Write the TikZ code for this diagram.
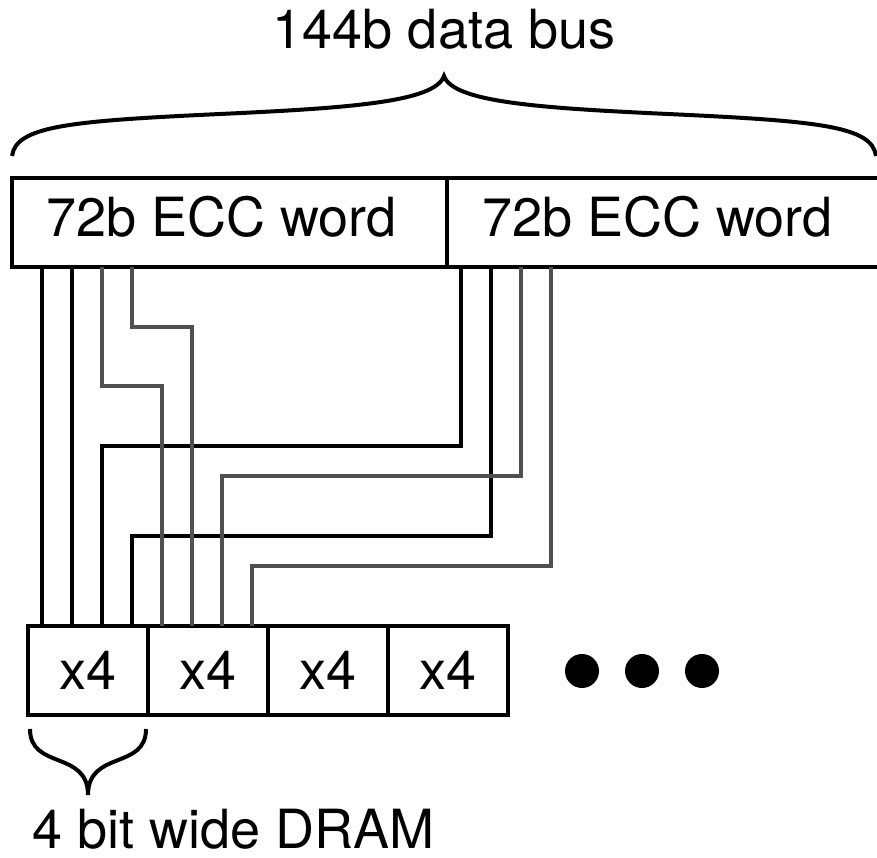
\documentclass[tikz,border=0pt]{standalone}
\usepackage{fontspec}
\setmainfont{TeX Gyre Heros}
\usetikzlibrary{calc}
\definecolor{wiregray}{HTML}{505050}
\begin{document}
\begin{tikzpicture}[x=1pt,y=-1pt,
  txt/.style={font=\fontsize{54}{60}\selectfont, inner sep=0pt, outer sep=0pt},
  box/.style={draw, line width=4pt, rectangle, inner sep=0pt, outer sep=0pt},
  wordbox/.style={box, minimum height=89pt},
  wordlabel/.style={txt, anchor=west, text height=38pt, text depth=9pt},
  chip/.style={box, txt, minimum width=120pt, minimum height=89pt},
  busline/.style={line width=4pt, black},
  grayline/.style={line width=4pt, wiregray},
  bracestyle/.style={line width=4pt},
  dot/.style={circle, fill=black, inner sep=0pt, minimum size=34pt}]
\useasboundingbox (0,0) rectangle (877,858);
\clip (0,0) rectangle (877,858);

% bus title and brace
\node[txt, anchor=base] (title) at (444,49) {144b data bus};
\draw[bracestyle] (12,156) .. controls (16,126) and (70,121) .. (220,114)
  .. controls (350,108) and (435,102) .. (444,76)
  .. controls (453,102) and (538,108) .. (668,114)
  .. controls (818,121) and (872,126) .. (876,156);

% the two ECC words
\node[wordbox, minimum width=435pt, anchor=north west] (w1) at (12,178) {};
\node[wordbox, minimum width=460pt, anchor=north west] (w2) at (w1.north east) {};
\node[wordlabel] (t1) at ($(w1.west)+(34,0)$) {72b ECC word};
\node[wordlabel] (t2) at ($(w2.west)+(35,0)$) {72b ECC word};

% DRAM chips
\node[chip, anchor=north west] (d1) at (28,626) {x4};
\node[chip, anchor=north west] (d2) at (d1.north east) {x4};
\node[chip, anchor=north west] (d3) at (d2.north east) {x4};
\node[chip, anchor=north west] (d4) at (d3.north east) {x4};
\node[dot] (e1) at (582,671) {};
\node[dot] (e2) at (642,671) {};
\node[dot] (e3) at (702,671) {};

% black wires
\draw[busline] ($(w1.south west)+(30,0)$) -- ($(d1.north west)+(14,0)$);
\draw[busline] ($(w1.south west)+(60,0)$) -- ($(d1.north west)+(44,0)$);
\draw[busline] ($(w2.south west)+(14,0)$) -- ++(0,179) -| ($(d1.north west)+(74,0)$);
\draw[busline] ($(w2.south west)+(44,0)$) -- ++(0,269) -| ($(d1.north west)+(104,0)$);

% gray wires
\draw[grayline] ($(w1.south west)+(90,0)$) -- ++(0,119) -| ($(d2.north west)+(14,0)$);
\draw[grayline] ($(w1.south west)+(120,0)$) -- ++(0,60) -| ($(d2.north west)+(44,0)$);
\draw[grayline] ($(w2.south west)+(74,0)$) -- ++(0,209) -| ($(d2.north west)+(74,0)$);
\draw[grayline] ($(w2.south west)+(104,0)$) -- ++(0,299) -| ($(d2.north west)+(104,0)$);

% chip-width brace and caption
\draw[bracestyle] (30,729) .. controls (30,770) and (88,750) .. (88,795)
  .. controls (88,750) and (146,770) .. (146,729);
\node[txt, anchor=base west] (cap) at (32,848) {4 bit wide DRAM};
\end{tikzpicture}
\end{document}
